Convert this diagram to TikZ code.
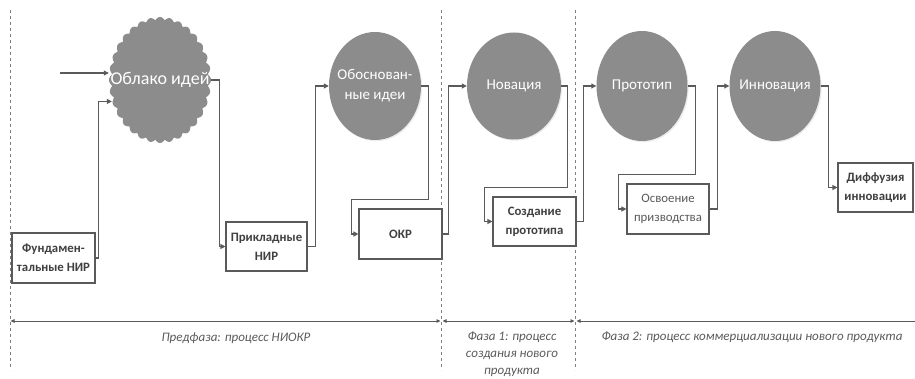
\documentclass[tikz,border=0pt]{standalone}
\usepackage{fontspec}
\setmainfont{Carlito}
\usetikzlibrary{arrows.meta,calc,shapes.geometric,shadows}

\definecolor{linegray}{HTML}{5A5A5A}
\definecolor{fillgray}{HTML}{8C8C8C}
\definecolor{textgray}{HTML}{404040}
\definecolor{dashgray}{HTML}{7F7F7F}

\tikzset{spantip/.tip={Triangle[length=4pt,width=3.5pt]}}

\begin{document}
\begin{tikzpicture}[x=1pt,y=-1pt,
  stage/.style={draw=linegray, line width=1.1pt, fill=white, text=textgray,
    font=\bfseries\fontsize{12.8}{19}\selectfont, align=center, inner sep=0pt},
  plainstage/.style={stage, text=linegray, font=\fontsize{12.8}{19}\selectfont},
  result/.style={ellipse, fill=fillgray, inner sep=0pt,
    drop shadow={opacity=0.15, shadow xshift=1.2pt, shadow yshift=-1.2pt}},
  restext/.style={text=white, font=\fontsize{15}{20}\selectfont, align=center, inner sep=0pt},
  conn/.style={draw=linegray, line width=1.1pt, -{Triangle[length=5pt,width=5pt]}},
  phase/.style={draw=dashgray, dashed, line width=0.6pt},
  span/.style={draw=linegray, line width=0.8pt},
  phaselabel/.style={text=linegray, font=\itshape\fontsize{13}{17}\selectfont, align=center}
]
\useasboundingbox (0,0) rectangle (915,379);

% phase boundaries
\coordinate (s0t) at (10,10);    \coordinate (s0b) at (10,370);
\coordinate (s1t) at (441.5,10); \coordinate (s1b) at (441.5,370);
\coordinate (s2t) at (575.5,10); \coordinate (s2b) at (575.5,370);
\coordinate (send) at (915,321);
\draw[phase] (s0t) -- (s0b);
\draw[phase] (s1t) -- (s1b);
\draw[phase] (s2t) -- (s2b);

% phase spans
\draw[span, spantip-spantip, shorten <=0.5pt, shorten >=1pt] (s0t |- send) -- (s1t |- send);
\draw[span, spantip-spantip, shorten <=1pt, shorten >=1pt] (s1t |- send) -- (s2t |- send);
\draw[span, spantip-, shorten <=1pt] (s2t |- send) -- (send);

\node[phaselabel] (l0) at (236,338) {Предфаза: процесс НИОКР};
\node[phaselabel] (l1) at (512,354) {Фаза 1: процесс\\создания нового\\продукта};
\node[phaselabel] (l2) at (752,337) {Фаза 2: процесс коммерциализации нового продукта};

% idea cloud: scalloped outline around an invisible ellipse node
\node[ellipse, inner sep=0pt, minimum width=102pt, minimum height=126pt] (cloud) at (160,80) {};
\fill[fillgray, shift={(cloud.center)}]
  plot[domain=0:360, samples=961]
  ({(48+3*abs(cos(16*\x)))*cos(\x)}, {(60+3*abs(cos(16*\x)))*sin(\x)}) -- cycle;
\node[restext, font=\fontsize{18}{22}\selectfont] (cloudt) at (160,80) {Облако идей};

% results
\node[result, minimum width=92pt, minimum height=108pt] (c2) at (375,86) {};
\node[restext] (c2t) at (c2) {Обоснован-\\ные идеи};
\node[result, minimum width=94pt, minimum height=107pt] (c3) at (514,86) {};
\node[restext] (c3t) at (c3) {Новация};
\node[result, minimum width=91pt, minimum height=110pt] (c4) at (642,86) {};
\node[restext] (c4t) at (c4) {Прототип};
\node[result, minimum width=91pt, minimum height=110pt] (c5) at (775,86) {};
\node[restext] (c5t) at (c5) {Инновация};

% stages
\node[stage, minimum width=83pt, minimum height=50pt] (f1) at (53.5,258) {Фундамен-\\тальные НИР};
\node[stage, minimum width=81pt, minimum height=49pt] (b2) at (266.5,246.5) {Прикладные\\НИР};
\node[stage, minimum width=83pt, minimum height=50pt] (b3) at (400.5,234) {ОКР};
\node[stage, minimum width=83pt, minimum height=49pt] (b4) at (534.5,221.5) {Создание\\прототипа};
\node[plainstage, minimum width=82pt, minimum height=50pt] (b5) at (668,209) {Освоение\\призводства};
\node[stage, minimum width=75pt, minimum height=49pt] (b6) at (875.5,187.5) {Диффузия\\инновации};

% flow
\coordinate (in) at (60,73);
\draw[conn] (in) -- (in -| cloud.west);
\draw[conn] (f1.east) -- ++(3,0) |- (cloud.204);
\draw[conn] (cloud.east) -- ++(8,0) |- (b2.west);
\draw[conn] (b2.east) -- ++(8,0) |- (c2.west);
\draw[conn] (c2.east) -- ++(7,0) |- ($(b3.north west)+(-7,-9)$) |- (b3.west);
\draw[conn] (b3.east) -- ++(6,0) |- (c3.west);
\draw[conn] (c3.east) -- ++(6,0) |- ($(b4.north west)+(-8,-9)$) |- (b4.west);
\draw[conn] (b4.east) -- ++(7,0) |- (c4.west);
\draw[conn] (c4.east) -- ++(8,0) |- ($(b5.north west)+(-8,-9)$) |- (b5.west);
\draw[conn] (b5.east) -- ++(8,0) |- (c5.west);
\draw[conn] (c5.east) -- ++(8,0) |- (b6.west);
\end{tikzpicture}
\end{document}
